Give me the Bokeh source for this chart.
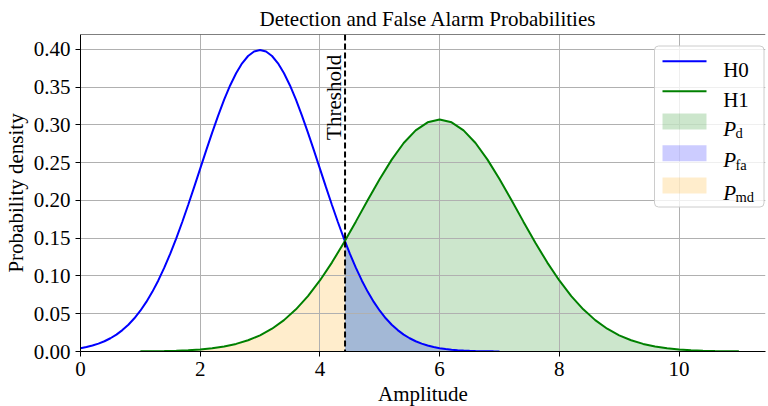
from bokeh.plotting import figure
from bokeh.models import Range1d, FixedTicker, NumeralTickFormatter, Span, Label, BoxAnnotation
from bokeh.embed import file_html
from bokeh.resources import INLINE

# ---------------- data ----------------
h0_x = [0.0, 0.1, 0.2, 0.3, 0.4, 0.5, 0.6, 0.7, 0.8, 0.9,
        1.0, 1.1, 1.2, 1.3, 1.4, 1.5, 1.6, 1.7, 1.8, 1.9,
        2.0, 2.1, 2.2, 2.3, 2.4, 2.5, 2.6, 2.7, 2.8, 2.9,
        3.0,
        3.1, 3.2, 3.3, 3.4, 3.5, 3.6, 3.7, 3.8, 3.9, 4.0,
        4.1, 4.2, 4.3, 4.4, 4.5, 4.6, 4.7, 4.8, 4.9, 5.0,
        5.1, 5.2, 5.3, 5.4, 5.5, 5.6, 5.7, 5.8, 5.9, 6.0,
        6.1, 6.2, 6.3, 6.4, 6.5, 6.6, 6.7, 6.8, 6.9, 7.0]
h0_y = [0.00443, 0.00595, 0.00792, 0.01042, 0.01358, 0.01753, 0.02239, 0.02833, 0.03547, 0.04398,
        0.05399, 0.06562, 0.07895, 0.09405, 0.11092, 0.12952, 0.14973, 0.17137, 0.19419, 0.21785,
        0.24197, 0.26609, 0.28969, 0.31225, 0.33322, 0.35207, 0.36827, 0.38139, 0.39104, 0.39695,
        0.39894,
        0.39695, 0.39104, 0.38139, 0.36827, 0.35207, 0.33322, 0.31225, 0.28969, 0.26609, 0.24197,
        0.21785, 0.19419, 0.17137, 0.14973, 0.12952, 0.11092, 0.09405, 0.07895, 0.06562, 0.05399,
        0.04398, 0.03547, 0.02833, 0.02239, 0.01753, 0.01358, 0.01042, 0.00792, 0.00595, 0.00443,
        0.00327, 0.00238, 0.00172, 0.00123, 0.00087, 0.00061, 0.00042, 0.00029, 0.00020, 0.00013]

h1_x = [1.0, 1.2, 1.4, 1.6, 1.8, 2.0, 2.2, 2.4, 2.6, 2.8,
        3.0, 3.2, 3.4, 3.6, 3.8, 4.0, 4.2, 4.4, 4.6, 4.8,
        5.0, 5.2, 5.4, 5.6, 5.8,
        6.0,
        6.2, 6.4, 6.6, 6.8, 7.0,
        7.2, 7.4, 7.6, 7.8, 8.0, 8.2, 8.4, 8.6, 8.8, 9.0,
        9.2, 9.4, 9.6, 9.8, 10.0, 10.2, 10.4, 10.6, 10.8, 11.0]
h1_y = [0.00019, 0.00034, 0.00059, 0.00100, 0.00166, 0.00270, 0.00428, 0.00664, 0.01004, 0.01484,
        0.02141, 0.03017, 0.04153, 0.05583, 0.07330, 0.09398, 0.11767, 0.14390, 0.17185, 0.20043,
        0.22829, 0.25395, 0.27589, 0.29270, 0.30328,
        0.30689,
        0.30328, 0.29270, 0.27589, 0.25395, 0.22829,
        0.20043, 0.17185, 0.14390, 0.11767, 0.09398, 0.07330, 0.05583, 0.04153, 0.03017, 0.02141,
        0.01484, 0.01004, 0.00664, 0.00428, 0.00270, 0.00166, 0.00100, 0.00059, 0.00034, 0.00019]

threshold = 4.42
h0_at_threshold = 0.146
h1_at_threshold = 0.147

x_ticks = [0, 2, 4, 6, 8, 10]
y_ticks = [0.00, 0.05, 0.10, 0.15, 0.20, 0.25, 0.30, 0.35, 0.40]

title_text = "Detection and False Alarm Probabilities"
x_label = "Amplitude"
y_label = "Probability density"
threshold_label = "Threshold"

# ---------------- layout / style ----------------
FONT = "Liberation Serif"
FS = "21px"
FRAME_W, FRAME_H = 685, 317
X_END, Y_END = 11.445, 0.4195


def fx(px):
    return px / FRAME_W * X_END


def fy(py):
    return Y_END - py / FRAME_H * Y_END


def split(xs, ys, t, yt, side):
    if side == "right":
        px = [t] + [x for x in xs if x > t]
        py = [yt] + [y for x, y in zip(xs, ys) if x > t]
    else:
        px = [x for x in xs if x < t] + [t]
        py = [y for x, y in zip(xs, ys) if x < t] + [yt]
    return px, py


p = figure(frame_width=FRAME_W, frame_height=FRAME_H,
           min_border_left=74, min_border_right=1, min_border_top=26, min_border_bottom=55,
           x_range=Range1d(0, X_END), y_range=Range1d(0, Y_END),
           output_backend="svg", toolbar_location=None, title=title_text)

p.outline_line_color = None
p.background_fill_color = "white"
p.border_fill_color = "white"

# title
p.title.text_font = FONT
p.title.text_font_size = FS
p.title.text_font_style = "normal"
p.title.text_color = "black"
p.title.align = "left"
p.title.offset = 179
p.title.standoff = 8

# axes
for ax in (p.xaxis[0], p.yaxis[0]):
    ax.axis_label_text_font = FONT
    ax.axis_label_text_font_size = FS
    ax.axis_label_text_font_style = "normal"
    ax.major_label_text_font = FONT
    ax.major_label_text_font_size = FS
    ax.major_tick_out = 5
    ax.major_tick_in = 0
    ax.minor_tick_out = 0
    ax.minor_tick_in = 0
    ax.axis_line_color = "black"
    ax.major_tick_line_color = "black"
    ax.major_label_text_color = "black"
    ax.axis_label_text_color = "black"
    ax.major_label_standoff = 5
    ax.axis_label_standoff = 5

p.yaxis.axis_label_standoff = 3
p.xaxis.axis_label_standoff = 3
p.xaxis.axis_label = x_label
p.yaxis.axis_label = y_label
p.xaxis.ticker = FixedTicker(ticks=x_ticks, minor_ticks=[])
p.yaxis.ticker = FixedTicker(ticks=y_ticks, minor_ticks=[])
p.yaxis.formatter = NumeralTickFormatter(format="0.00")

p.xgrid.ticker = FixedTicker(ticks=x_ticks, minor_ticks=[])
p.ygrid.ticker = FixedTicker(ticks=y_ticks, minor_ticks=[])
for g in (p.xgrid[0], p.ygrid[0]):
    g.grid_line_color = "#b0b0b0"
    g.grid_line_width = 1

# top spine
p.add_layout(Span(location=Y_END, dimension="width", line_color="black", line_width=1))

# fills
pd_x, pd_y = split(h1_x, h1_y, threshold, h1_at_threshold, "right")
pfa_x, pfa_y = split(h0_x, h0_y, threshold, h0_at_threshold, "right")
pmd_x, pmd_y = split(h1_x, h1_y, threshold, h1_at_threshold, "left")

r = p.varea(x=pd_x, y1=0, y2=pd_y, fill_color="#008000", fill_alpha=0.2)
r.level = "image"
r = p.varea(x=pfa_x, y1=0, y2=pfa_y, fill_color="#0000ff", fill_alpha=0.2)
r.level = "image"
r = p.varea(x=pmd_x, y1=0, y2=pmd_y, fill_color="#ffa500", fill_alpha=0.2)
r.level = "image"

# curves
p.line(h0_x, h0_y, line_color="#0000ff", line_width=2)
p.line(h1_x, h1_y, line_color="#008000", line_width=2)

# threshold line and label
p.add_layout(Span(location=threshold, dimension="height", line_color="black",
                  line_width=2, line_dash="6 3"))
p.add_layout(Label(x=threshold, y=0.28, x_offset=-11, text=threshold_label, angle=1.5708,
                   text_font=FONT, text_font_size=FS, text_baseline="middle",
                   text_align="left", text_color="black"))

# legend (manual, to allow subscripts)
p.add_layout(BoxAnnotation(left=fx(574), right=fx(683.5), top=fy(11.5), bottom=fy(172.5),
                           fill_color="white", fill_alpha=0.8, line_color="#cccccc",
                           line_alpha=1, line_width=1, border_radius=4))
line_items = [("H0", "#0000ff", 26.7, 35.0), ("H1", "#008000", 56.7, 65.0)]
for lbl, col, cy, base in line_items:
    p.add_layout(BoxAnnotation(left=fx(582), right=fx(626), top=fy(cy - 1), bottom=fy(cy + 1),
                               fill_color=col, fill_alpha=1, line_color=None))
    p.add_layout(Label(x=fx(642.7), y=fy(base), text=lbl, text_font=FONT, text_font_size=FS,
                       text_baseline="alphabetic", text_color="black"))

patch_items = [("d", "#008000", 79.0, 94.0), ("fa", "#0000ff", 110.7, 125.7), ("md", "#ffa500", 143.0, 158.0)]
for sub, col, top, base in patch_items:
    p.add_layout(BoxAnnotation(left=fx(582), right=fx(626), top=fy(top), bottom=fy(top + 16),
                               fill_color=col, fill_alpha=0.2, line_color=None))
    p.add_layout(Label(x=fx(642.7), y=fy(base), text="P", text_font=FONT, text_font_size=FS,
                       text_font_style="italic", text_baseline="alphabetic", text_color="black"))
    p.add_layout(Label(x=fx(655), y=fy(base + 4.3), text=sub, text_font=FONT, text_font_size="14.5px",
                       text_baseline="alphabetic", text_color="black"))

open("out.html", "w").write(file_html(p, INLINE))
